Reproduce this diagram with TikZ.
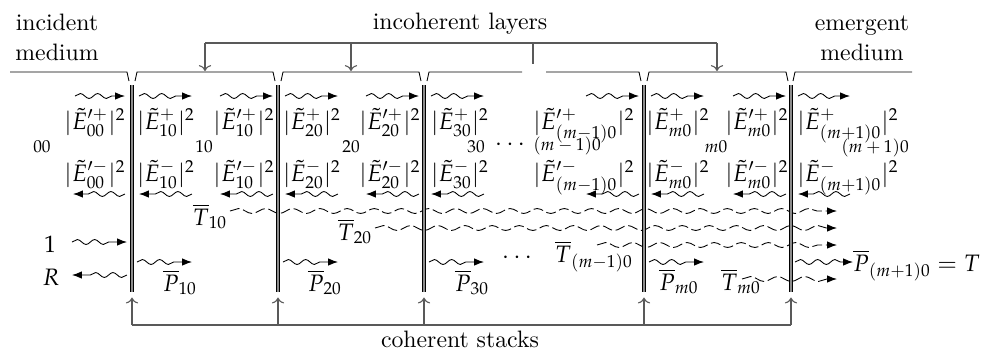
\documentclass[tikz,border=0pt,11pt]{standalone}
\usepackage{amsmath}
\usepackage{mathpazo}
\usetikzlibrary{
  arrows.meta,              % Latex / To tips
  decorations.pathmorphing  % snake waves
}

\begin{document}
\begin{tikzpicture}[x=0.0162cm, y=-0.0162cm,
  wave/.style={decorate, decoration={snake, amplitude=0.4mm,
      segment length=2.8mm, post length=1.6mm},
    -{Latex[length=1.6mm, width=1.2mm]}},
  dwave/.style={wave, decoration={segment length=4.4mm},
    dash pattern=on 1.6mm off 0.6mm},
  stackline/.style={double=black!45, double distance=1.1pt, line width=0.45pt},
  bracket/.style={black!65, line width=0.5pt},
  lbl/.style={anchor=base, inner sep=0pt},
  idx/.style={anchor=base, inner sep=0pt, font=\scriptsize}]
  \useasboundingbox (0,0) rectangle (983,353);

  % ===== titles =====
  \node[align=center, anchor=base] (incm) at (57,60) {incident\\medium};
  \node[align=center, anchor=base] (emgm) at (862,60) {emergent\\medium};
  \node[anchor=base] (incl) at (460,29) {incoherent layers};
  \node[anchor=base] (cohs) at (460,347) {coherent stacks};

  % ----- media tops (little notches at each stack) -----
  \draw (10,72) -- (127,72) -- (129,81);
  \foreach \a/\b in {132/278, 278/424, 644/791}
    \draw (\a+3,81) -- (\a+5,72) -- (\b-5,72) -- (\b-3,81);
  \draw (427,81) -- (429,72) -- (522,72);
  \draw (546,72) -- (639,72) -- (641,81);
  \draw (793,81) -- (795,72) -- (912,72);

  % ----- bracket: incoherent layers -----
  \coordinate (t1) at (205,43);
  \coordinate (t2) at (351,43);
  \coordinate (t3) at (533,43);
  \coordinate (t4) at (717,43);
  \coordinate (l1) at (205,71);
  \coordinate (l2) at (351,71);
  \coordinate (l3) at (533,64);
  \coordinate (l4) at (717,71);
  \draw[bracket] (t1) -- (t4);
  \draw[bracket, -{To}] (t1) -- (l1);
  \draw[bracket, -{To}] (t2) -- (l2);
  \draw[bracket] (t3) -- (l3);
  \draw[bracket, -{To}] (t4) -- (l4);

  % ===== dashed waves (incoherent transmission) =====
  \draw[dwave] (230,211) -- (837,211);
  \draw[dwave] (375,228) -- (837,228);
  \draw[dwave] (597,245) -- (837,245);
  \draw[dwave] (742,279) -- (837,279);

  % ===== coherent stacks =====
  \foreach \x/\n in {132/1, 278/2, 424/3, 644/4, 791/5} {
    \draw[stackline] (\x,85) coordinate (st\n) -- (\x,292) coordinate (sb\n);
    \coordinate (cb\n) at (\x,325);
    \draw[bracket, -{To}] (cb\n) -- ([yshift=-0.9mm]sb\n);
  }
  \draw[bracket] (cb1) -- (cb5);

  % ===== waves inside the layers =====
  \foreach \a/\b in {132/278, 278/424, 424/644, 644/791} {
    \draw[wave] (\a+7,96) -- (\a+60,96);
    \draw[wave] (\b-58,96) -- (\b-5,96);
    \draw[wave] (\a+60,194) -- (\a+7,194);
    \draw[wave] (\b-5,194) -- (\b-58,194);
    \draw[wave] (\a+5,262) -- (\a+60,262);
  }
  % incident / emergent media
  \draw[wave] (75,96) -- (125,96);
  \draw[wave] (125,194) -- (73,194);
  \draw[wave] (798,96) -- (850,96);
  \draw[wave] (850,194) -- (798,194);

  \node[lbl] (one) at (50,252) {$1$};
  \node[lbl] (refl) at (51,285) {$R$};
  \draw[wave] (72,242) -- (127,242);
  \draw[wave] (127,275) -- (72,275);

  \node[lbl, anchor=base west] (pout) at (853,271) {$\overline{P}_{(m+1)0}=T$};
  \draw[wave] (795,262) -- (pout.west |- 0,262);

  % ===== intensities =====
  \node[lbl] (ep00) at (95,129)  {$|\tilde{E}'^{+}_{00}|^2$};
  \node[lbl] (ep10) at (166,129) {$|\tilde{E}^{+}_{10}|^2$};
  \node[lbl] (fp10) at (244,129) {$|\tilde{E}'^{+}_{10}|^2$};
  \node[lbl] (ep20) at (312,129) {$|\tilde{E}^{+}_{20}|^2$};
  \node[lbl] (fp20) at (390,129) {$|\tilde{E}'^{+}_{20}|^2$};
  \node[lbl] (ep30) at (460,129) {$|\tilde{E}^{+}_{30}|^2$};
  \node[lbl] (fpm1) at (584,129) {$|\tilde{E}'^{+}_{(m-1)0}|^2$};
  \node[lbl] (epm)  at (678,129) {$|\tilde{E}^{+}_{m0}|^2$};
  \node[lbl] (fpm)  at (757,129) {$|\tilde{E}'^{+}_{m0}|^2$};
  \node[lbl] (epm1) at (848,129) {$|\tilde{E}^{+}_{(m+1)0}|^2$};

  \node[lbl] (em00) at (95,181)  {$|\tilde{E}'^{-}_{00}|^2$};
  \node[lbl] (em10) at (166,181) {$|\tilde{E}^{-}_{10}|^2$};
  \node[lbl] (fm10) at (244,181) {$|\tilde{E}'^{-}_{10}|^2$};
  \node[lbl] (em20) at (312,181) {$|\tilde{E}^{-}_{20}|^2$};
  \node[lbl] (fm20) at (390,181) {$|\tilde{E}'^{-}_{20}|^2$};
  \node[lbl] (em30) at (460,181) {$|\tilde{E}^{-}_{30}|^2$};
  \node[lbl] (fmm1) at (584,181) {$|\tilde{E}'^{-}_{(m-1)0}|^2$};
  \node[lbl] (emm)  at (678,181) {$|\tilde{E}^{-}_{m0}|^2$};
  \node[lbl] (fmm)  at (757,181) {$|\tilde{E}'^{-}_{m0}|^2$};
  \node[lbl] (emm1) at (848,181) {$|\tilde{E}^{-}_{(m+1)0}|^2$};

  % layer indices
  \node[idx] (i00) at (42,152)  {$00$};
  \node[idx] (i10) at (204,152) {$10$};
  \node[idx] (i20) at (351,152) {$20$};
  \node[idx] (i30) at (476,152) {$30$};
  \node[lbl] (dt1) at (512,150) {$\cdots$};
  \node[idx] (im1) at (567,150) {$(m-1)0$};
  \node[idx] (im)  at (716,152) {$m0$};
  \node[idx] (ip1) at (875,152) {$(m+1)0$};

  % ===== T and P labels =====
  \node[lbl] (T10) at (210,225) {$\overline{T}_{10}$};
  \node[lbl] (T20) at (355,240) {$\overline{T}_{20}$};
  \node[lbl] (Tm1) at (594,262) {$\overline{T}_{(m-1)0}$};
  \node[lbl] (Tm)  at (741,290) {$\overline{T}_{m0}$};
  \node[lbl] (dt2) at (519,263) {$\cdots$};

  \node[lbl] (P10) at (180,291) {$\overline{P}_{10}$};
  \node[lbl] (P20) at (325,291) {$\overline{P}_{20}$};
  \node[lbl] (P30) at (472,291) {$\overline{P}_{30}$};
  \node[lbl] (Pm)  at (679,290) {$\overline{P}_{m0}$};
\end{tikzpicture}
\end{document}
